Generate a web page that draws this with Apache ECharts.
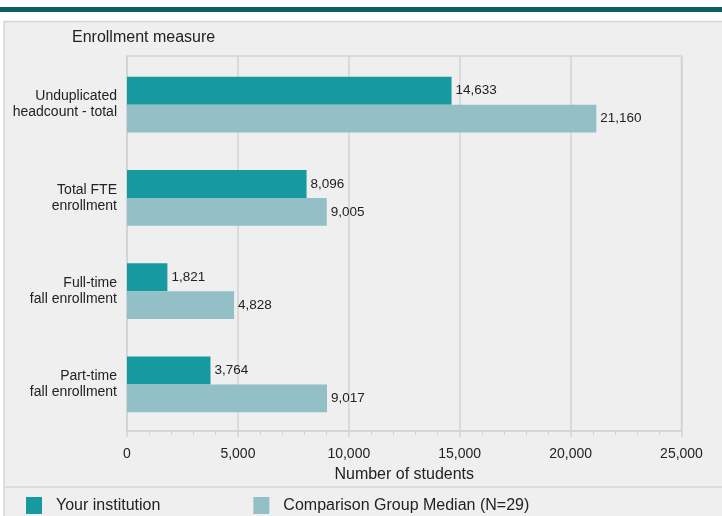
<!DOCTYPE html>
<html><head><meta charset="utf-8">
<script src="https://cdn.jsdelivr.net/npm/echarts@6/dist/echarts.min.js"></script>
<style>html,body{margin:0;padding:0;background:#fff}#c{width:722px;height:516px}</style>
</head><body><div id="c"></div>
<script>
const categories = ['Unduplicated\nheadcount - total', 'Total FTE\nenrollment', 'Full-time\nfall enrollment', 'Part-time\nfall enrollment'];
const yourInstitution = [14633, 8096, 1821, 3764];
const comparisonMedian = [21160, 9005, 4828, 9017];
const seriesNames = ['Your institution', 'Comparison Group Median (N=29)'];
const xMin = 0, xMax = 25000, xStep = 5000;

const chart = echarts.init(document.getElementById('c'));
const font = 'Liberation Sans, Arial, sans-serif';
const fmt = v => v.toLocaleString('en-US');
const lineC = '#d3d3d3';
chart.setOption({
  animation: false,
  textStyle: {fontFamily: font},
  graphic: [
    {type: 'rect', z: -10, shape: {x: 0, y: 7, width: 722, height: 5}, style: {fill: '#0e5f63'}},
    {type: 'rect', z: -10, shape: {x: 4, y: 21.5, width: 720, height: 500}, style: {fill: '#efefef', stroke: '#d6d6d6', lineWidth: 1.5}},
    {type: 'line', z: -9, shape: {x1: 4, y1: 487, x2: 722, y2: 487}, style: {stroke: '#d6d6d6', lineWidth: 1.5}},
    {type: 'text', left: 72, top: 30, style: {text: 'Enrollment measure', font: '16px ' + font, fill: '#222'}}
  ],
  legend: {
    data: seriesNames,
    left: 26, top: 497, padding: 0,
    itemWidth: 16, itemHeight: 17, itemGap: 93,
    icon: 'rect',
    textStyle: {fontSize: 16, color: '#222', fontFamily: font, padding: [0, 0, 0, 9]}
  },
  grid: [
    {left: 127, right: 40.5, top: 56, bottom: 85, show: true, borderColor: lineC, borderWidth: 1.5, backgroundColor: 'transparent'},
    {left: 127, right: 40.5, top: 58, bottom: 85}
  ],
  xAxis: [
    {
      gridIndex: 0, type: 'value', min: xMin, max: xMax, interval: xStep,
      name: 'Number of students', nameLocation: 'middle', nameGap: 36,
      nameTextStyle: {fontSize: 16, color: '#222'},
      axisLine: {show: true, lineStyle: {color: lineC, width: 1.5}},
      axisTick: {show: true, length: 6, lineStyle: {color: lineC, width: 1.5}},
      minorTick: {show: true, splitNumber: 5, length: 4, lineStyle: {color: lineC}},
      splitLine: {show: true, lineStyle: {color: lineC, width: 1.5}},
      axisLabel: {fontSize: 14, color: '#222', margin: 16, formatter: v => fmt(v)}
    },
    {
      gridIndex: 1, type: 'value', min: xMin, max: xMax, interval: xStep,
      axisLine: {show: false}, axisTick: {show: false}, splitLine: {show: false}, axisLabel: {show: false}
    }
  ],
  yAxis: [
    {gridIndex: 0, type: 'value', show: false},
    {
      gridIndex: 1, type: 'category', data: categories, inverse: true,
      axisLine: {show: true, lineStyle: {color: lineC, width: 1.5}},
      axisTick: {show: false},
      axisLabel: {fontSize: 14, color: '#222', margin: 10, lineHeight: 16, align: 'right'}
    }
  ],
  series: [
    {name: seriesNames[0], type: 'bar', xAxisIndex: 1, yAxisIndex: 1, data: yourInstitution, barGap: '0%', barCategoryGap: '40%',
     itemStyle: {color: '#169a9f'},
     label: {show: true, position: 'right', distance: 4, fontSize: 13.5, color: '#222', formatter: p => fmt(p.value)}},
    {name: seriesNames[1], type: 'bar', xAxisIndex: 1, yAxisIndex: 1, data: comparisonMedian, barGap: '0%', barCategoryGap: '40%',
     itemStyle: {color: '#92c0c6'},
     label: {show: true, position: 'right', distance: 4, fontSize: 13.5, color: '#222', formatter: p => fmt(p.value)}}
  ]
});
</script></body></html>
